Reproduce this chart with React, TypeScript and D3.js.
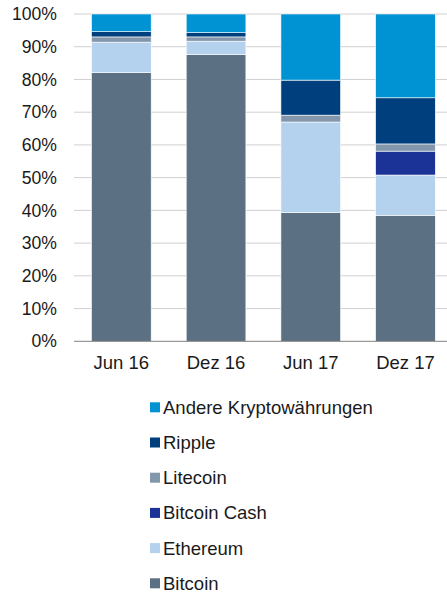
import React, { useEffect, useRef } from "react";
import * as d3 from "d3";

const categories = ["Jun 16", "Dez 16", "Jun 17", "Dez 17"];
const seriesNames = ["Bitcoin", "Ethereum", "Bitcoin Cash", "Litecoin", "Ripple", "Andere Kryptowährungen"];
const bitcoin = [82.1, 87.6, 39.3, 38.5];
const ethereum = [9.3, 4.1, 27.7, 12.3];
const bitcoinCash = [0, 0, 0, 7.3];
const litecoin = [1.6, 1.3, 2.1, 2.2];
const ripple = [1.6, 1.3, 10.7, 14.1];
const andere = [5.4, 5.7, 20.2, 25.6];
const colors = ["#5b7083", "#b4d1ee", "#1b3296", "#8297ab", "#003f7d", "#0093d3"];
const yTicks = [0, 10, 20, 30, 40, 50, 60, 70, 80, 90, 100];

const App = () => {
  const svgRef = useRef<SVGSVGElement>(null);

  useEffect(() => {
    const svg = d3.select(svgRef.current);
    svg.selectAll("*").remove();

    const width = 447;
    const left = 74;
    const top = 14;
    const bottom = 341.3;

    const values = [bitcoin, ethereum, bitcoinCash, litecoin, ripple, andere];
    const rows = categories.map((c, i) => {
      const row: any = { cat: c };
      seriesNames.forEach((s, j) => (row[s] = values[j][i]));
      return row;
    });
    const stacked = d3.stack().keys(seriesNames)(rows);

    const x = d3.scaleBand().domain(categories).range([left, left + 4 * 94.7]).paddingInner(0.37).paddingOuter(0.185);
    const y = d3.scaleLinear().domain([0, 100]).range([bottom, top]);

    const font = "'Liberation Sans', Arial, sans-serif";

    // gridlines
    svg
      .append("g")
      .selectAll("line")
      .data(yTicks.filter((t) => t > 0))
      .enter()
      .append("line")
      .attr("x1", left)
      .attr("x2", width)
      .attr("y1", (d) => y(d))
      .attr("y2", (d) => y(d))
      .attr("stroke", "#d0d0d0")
      .attr("stroke-width", 1);

    // y labels
    svg
      .append("g")
      .selectAll("text")
      .data(yTicks)
      .enter()
      .append("text")
      .attr("x", 57)
      .attr("y", (d) => y(d))
      .attr("dy", "0.35em")
      .attr("text-anchor", "end")
      .attr("font-family", font)
      .attr("font-size", "17.6px")
      .attr("fill", "#1a1a1a")
      .text((d) => d + "%");

    // bars, top segment clamped at 100%
    svg
      .append("g")
      .selectAll("g")
      .data(stacked)
      .enter()
      .append("g")
      .attr("fill", (d, i) => colors[i])
      .selectAll("rect")
      .data((d) => d.filter((p) => p[1] - p[0] > 0))
      .enter()
      .append("rect")
      .attr("x", (d: any) => x(d.data.cat)!)
      .attr("width", x.bandwidth())
      .attr("y", (d) => y(Math.min(d[1], 100)))
      .attr("height", (d) => y(d[0]) - y(Math.min(d[1], 100)))
      .attr("stroke", "#ffffff")
      .attr("stroke-width", 0.6);

    // axis line
    svg
      .append("line")
      .attr("x1", left)
      .attr("x2", width)
      .attr("y1", bottom)
      .attr("y2", bottom)
      .attr("stroke", "#808080")
      .attr("stroke-width", 1);

    // x labels
    svg
      .append("g")
      .selectAll("text")
      .data(categories)
      .enter()
      .append("text")
      .attr("x", (d) => x(d)! + x.bandwidth() / 2)
      .attr("y", 363)
      .attr("dy", "0.35em")
      .attr("text-anchor", "middle")
      .attr("font-family", font)
      .attr("font-size", "18.5px")
      .attr("fill", "#1a1a1a")
      .text((d) => d);

    // legend (reverse order)
    const legendItems = seriesNames.map((s, i) => ({ s, c: colors[i] })).reverse();
    const lg = svg
      .append("g")
      .selectAll("g")
      .data(legendItems)
      .enter()
      .append("g")
      .attr("transform", (d, i) => `translate(150, ${407.3 + i * 35.2})`);
    lg.append("rect").attr("x", 0).attr("y", -5).attr("width", 10).attr("height", 10).attr("fill", (d) => d.c);
    lg.append("text")
      .attr("x", 13)
      .attr("dy", "0.35em")
      .attr("font-family", font)
      .attr("font-size", "18.5px")
      .attr("fill", "#1a1a1a")
      .text((d) => d.s);
  }, []);

  return <svg ref={svgRef} width={447} height={593} style={{ position: "absolute", left: 0, top: 0, background: "#fff" }} />;
};

export default App;
